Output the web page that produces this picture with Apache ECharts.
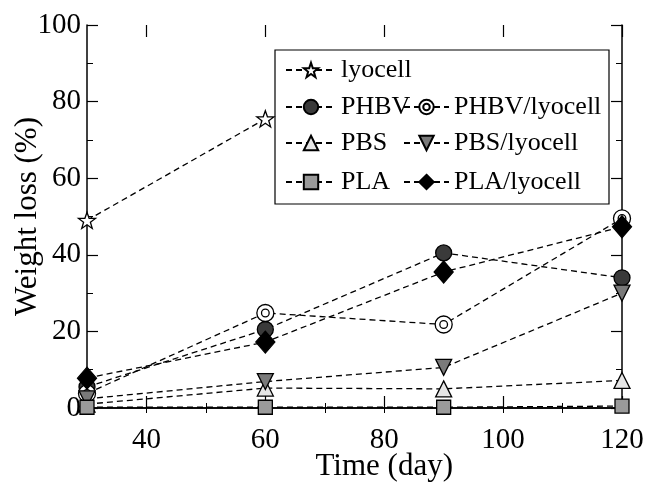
<!DOCTYPE html>
<html>
<head>
<meta charset="utf-8">
<script src="https://cdn.jsdelivr.net/npm/echarts@6/dist/echarts.min.js"></script>
<style>html,body{margin:0;padding:0;background:#fff;}#c{width:645px;height:482px;}</style>
</head>
<body>
<div id="c"></div>
<script>
const days = [30, 60, 90, 120];
const seriesNames = ['lyocell', 'PHBV', 'PHBV/lyocell', 'PBS', 'PBS/lyocell', 'PLA', 'PLA/lyocell'];
const lyocell = [49, 75.5];
const phbv = [5.5, 20.5, 40.5, 34];
const phbvLyocell = [3.8, 24.8, 21.8, 49.5];
const pbs = [1.0, 5.2, 5.0, 7.2];
const pbsLyocell = [2.4, 6.9, 10.6, 30];
const pla = [0.2, 0.2, 0.2, 0.5];
const plaLyocell = [7.8, 17.2, 35.5, 47.3];
const xTicks = [40, 60, 80, 100, 120];
const yTicks = [0, 20, 40, 60, 80, 100];

const FONT = 'Liberation Serif';
const starPath = 'path://M0,-10L2.35,-3.24L9.51,-3.09L3.80,1.24L5.88,8.09L0,4L-5.88,8.09L-3.80,1.24L-9.51,-3.09L-2.35,-3.24Z';
const ringPath = 'path://M0,-10A10,10,0,1,1,0,10A10,10,0,1,1,0,-10ZM0,-4.5A4.5,4.5,0,1,1,0,4.5A4.5,4.5,0,1,1,0,-4.5Z';

function pairs(vals) { return vals.map((v, i) => [days[i], v]); }

const styles = {
  'lyocell': {symbol: starPath, size: 17, color: '#fff'},
  'PHBV': {symbol: 'circle', size: 16, color: '#3a3a3a'},
  'PHBV/lyocell': {symbol: ringPath, size: 17, color: '#fff'},
  'PBS': {symbol: 'triangle', size: 16, color: '#e6e6e6'},
  'PBS/lyocell': {symbol: 'triangle', size: 16, color: '#7a7a7a', rotate: 180},
  'PLA': {symbol: 'rect', size: 14, color: '#9a9a9a'},
  'PLA/lyocell': {symbol: 'diamond', size: [19, 22], color: '#000'}
};
const dataMap = {
  'lyocell': lyocell, 'PHBV': phbv, 'PHBV/lyocell': phbvLyocell, 'PBS': pbs,
  'PBS/lyocell': pbsLyocell, 'PLA': pla, 'PLA/lyocell': plaLyocell
};

const series = seriesNames.map(name => {
  const s = styles[name];
  return {
    name: name, type: 'line', xAxisIndex: 0, yAxisIndex: 0,
    data: pairs(dataMap[name]),
    symbol: s.symbol, symbolSize: s.size, symbolKeepAspect: true,
    symbolRotate: s.rotate || 0,
    showAllSymbol: true,
    lineStyle: {color: '#000', width: 1.3, type: [6, 4]},
    itemStyle: {color: s.color, borderColor: '#000', borderWidth: 1.3},
    emphasis: {disabled: true},
    animation: false
  };
});

// legend layout: [name, left, top, itemWidth]
const legendLayout = [
  ['lyocell', 285, 57, 50],
  ['PHBV', 285, 94, 50],
  ['PHBV/lyocell', 403, 94, 45],
  ['PBS', 285, 130, 50],
  ['PBS/lyocell', 403, 130, 45],
  ['PLA', 285, 169, 50],
  ['PLA/lyocell', 403, 169, 45]
];
const legends = legendLayout.map(l => ({
  data: [l[0]], left: l[1], top: l[2], itemWidth: l[3], itemHeight: 18, padding: 0,
  selectedMode: false, itemGap: 0,
  textStyle: {fontFamily: FONT, fontSize: 26, color: '#000'}
}));

const axisLine = {show: true, lineStyle: {color: '#000', width: 1.5}};
const option = {
  backgroundColor: '#fff',
  animation: false,
  legend: legends,
  graphic: [{type: 'rect', shape: {x: 275, y: 50, width: 334, height: 154}, style: {fill: 'none', stroke: '#000', lineWidth: 1.2}, z: 1}],
  grid: [
    {left: 87, right: 23, top: 25, bottom: 74, outerBoundsMode: 'none', containLabel: false},
    {left: 146.44, right: 23, top: 25, bottom: 74, outerBoundsMode: 'none', containLabel: false}
  ],
  xAxis: [
    {type: 'value', gridIndex: 0, position: 'bottom', min: 30, max: 120, interval: 10,
     axisLine: axisLine, axisTick: {inside: true, length: 5, lineStyle: {color: '#000'}},
     axisLabel: {show: false}, splitLine: {show: false}},
    {type: 'value', gridIndex: 0, position: 'top', min: 30, max: 120, interval: 10,
     axisLine: axisLine, axisTick: {inside: true, length: 5, lineStyle: {color: '#000'}},
     axisLabel: {show: false}, splitLine: {show: false}},
    {type: 'value', gridIndex: 1, position: 'bottom', min: xTicks[0], max: xTicks[xTicks.length - 1], interval: 20,
     axisLine: {show: false}, axisTick: {inside: true, length: 12, lineStyle: {color: '#000', width: 1.2}},
     axisLabel: {fontFamily: FONT, fontSize: 29, color: '#000', margin: 18},
     splitLine: {show: false},
     name: 'Time (day)', nameLocation: 'middle', nameGap: 43, nameMoveOverlap: false,
     nameTextStyle: {fontFamily: FONT, fontSize: 31, color: '#000'}},
    {type: 'value', gridIndex: 1, position: 'top', min: xTicks[0], max: xTicks[xTicks.length - 1], interval: 20,
     axisLine: {show: false}, axisTick: {inside: true, length: 12, lineStyle: {color: '#000', width: 1.2}},
     axisLabel: {show: false}, splitLine: {show: false}}
  ],
  yAxis: [
    {type: 'value', gridIndex: 0, position: 'left', min: yTicks[0], max: yTicks[yTicks.length - 1], interval: 20,
     axisLine: axisLine, axisTick: {inside: true, length: 11, lineStyle: {color: '#000', width: 1.2}},
     minorTick: {show: true, splitNumber: 2, length: 6, lineStyle: {color: '#000'}},
     axisLabel: {fontFamily: FONT, fontSize: 29, color: '#000', margin: 6},
     splitLine: {show: false}, minorSplitLine: {show: false},
     name: 'Weight loss (%)', nameLocation: 'middle', nameGap: 44, nameMoveOverlap: false,
     nameTextStyle: {fontFamily: FONT, fontSize: 31, color: '#000'}},
    {type: 'value', gridIndex: 0, position: 'right', min: yTicks[0], max: yTicks[yTicks.length - 1], interval: 20,
     axisLine: axisLine, axisTick: {inside: true, length: 11, lineStyle: {color: '#000', width: 1.2}},
     minorTick: {show: true, splitNumber: 2, length: 6, lineStyle: {color: '#000'}},
     axisLabel: {show: false}, splitLine: {show: false}},
    {type: 'value', gridIndex: 1, min: 0, max: 100, show: false}
  ],
  series: series
};
const chart = echarts.init(document.getElementById('c'), null, {renderer: 'canvas'});
chart.setOption(option);
</script>
</body>
</html>
